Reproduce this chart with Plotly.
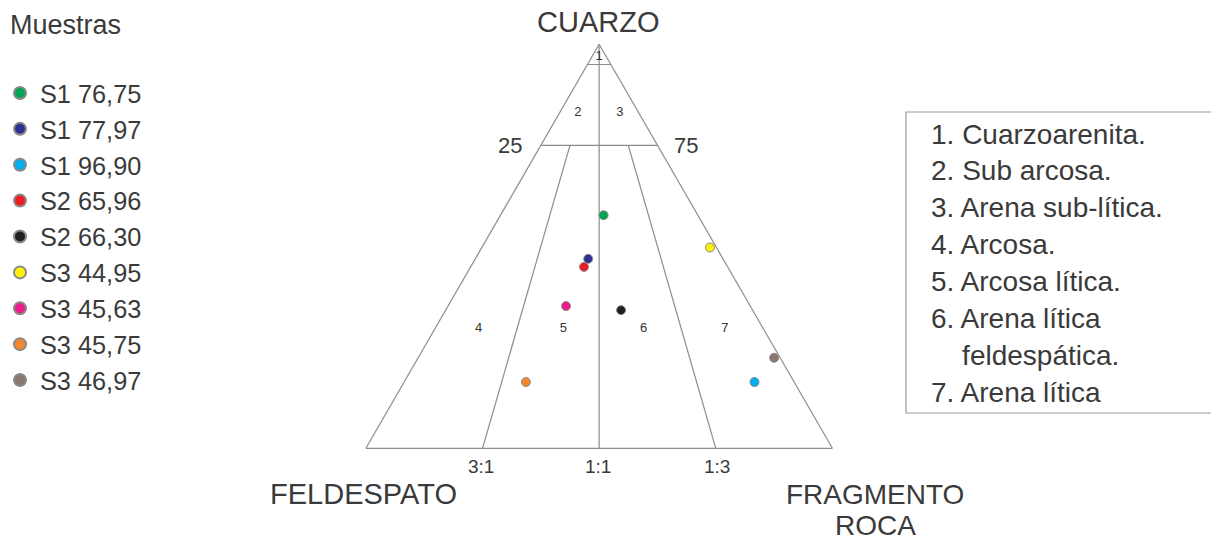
import plotly.graph_objects as go

# muestras: cuarzo (Q), feldespato (F), fragmento roca (R) en %
muestras = ["S1 76,75", "S1 77,97", "S1 96,90", "S2 65,96", "S2 66,30",
            "S3 44,95", "S3 45,63", "S3 45,75", "S3 46,97"]
cuarzo = [57.7, 46.9, 16.4, 44.9, 34.2, 49.7, 35.2, 16.4, 22.4]
feldespato = [20.2, 28.9, 8.5, 30.8, 28.2, 1.4, 39.5, 57.5, 1.3]
fragmento = [22.1, 24.2, 75.1, 24.3, 37.6, 48.9, 25.3, 26.1, 76.3]
colores = ["#00a651", "#2e3192", "#00aeef", "#ed1c24", "#231f20",
           "#fff200", "#ec1c8c", "#f7872b", "#8b7770"]

# limites de la clasificacion (Q, F, R) por segmento
limites = [
    ([95, 95], [5, 0], [0, 5]),
    ([75, 75], [25, 0], [0, 25]),
    ([100, 0], [0, 50], [0, 50]),
    ([75, 0], [18.75, 75], [6.25, 25]),
    ([75, 0], [6.25, 25], [18.75, 75]),
]

# numeros de campo
campos = ["1", "2", "3", "4", "5", "6", "7"]
campo_q = [96.8, 83.1, 83.1, 29.7, 29.7, 29.7, 29.7]
campo_f = [1.6, 13.0, 4.0, 61.0, 42.8, 25.6, 8.2]
campo_r = [1.6, 3.9, 12.9, 9.3, 27.5, 44.7, 62.1]

nombres = ["1. Cuarzoarenita.", "2. Sub arcosa.", "3. Arena sub-lítica.",
           "4. Arcosa.", "5. Arcosa lítica.", "6. Arena lítica",
           "\u00a0\u00a0\u00a0\u00a0feldespática.", "7. Arena lítica"]

W, H = 1211, 544
FUENTE = "Liberation Sans, Arial, sans-serif"
GRIS = "#3a3a3a"
LINEA = "#8c8c8c"


def px(x, y):
    return x / W, 1 - y / H


fig = go.Figure()

for q, f, r in limites:
    fig.add_trace(go.Scatterternary(
        a=q, b=f, c=r, mode="lines",
        line=dict(color=LINEA, width=1.2),
        showlegend=False, hoverinfo="skip"
    ))

fig.add_trace(go.Scatterternary(
    a=campo_q, b=campo_f, c=campo_r, mode="text",
    text=campos, textfont=dict(family=FUENTE, size=13, color="#333333"),
    showlegend=False, hoverinfo="skip"
))

for i in range(len(muestras)):
    fig.add_trace(go.Scatterternary(
        a=[cuarzo[i]], b=[feldespato[i]], c=[fragmento[i]],
        mode="markers", name=muestras[i],
        marker=dict(size=9, color=colores[i],
                    line=dict(color="#8a8a8a", width=1))
    ))

eje = dict(showticklabels=False, ticks="", showgrid=False,
           linecolor=LINEA, linewidth=1.2, title="")

anotaciones = []


def texto(t, x, y, size, xanchor="center"):
    xp, yp = px(x, y)
    anotaciones.append(dict(
        text=t, x=xp, y=yp, xref="paper", yref="paper",
        xanchor=xanchor, yanchor="middle", showarrow=False,
        borderpad=0,
        font=dict(family=FUENTE, size=size, color=GRIS)
    ))


texto("CUARZO", 598, 22, 29)
texto("FELDESPATO", 363, 494, 29)
texto("FRAGMENTO", 875, 494, 28)
texto("ROCA", 875, 525.5, 28)
texto("25", 510, 146, 22)
texto("75", 686, 146, 22)
texto("3:1", 481, 466, 19)
texto("1:1", 598, 466, 19)
texto("1:3", 717, 466, 19)
texto("Muestras", 9, 25, 27, "left")

for i, n in enumerate(nombres):
    texto(n, 930, 134 + i * 36.9, 28, "left")

x0, y1 = px(906, 112)
x1, y0 = px(1220, 413)

fig.update_layout(
    width=W, height=H,
    margin=dict(l=0, r=0, t=0, b=0),
    paper_bgcolor="white",
    ternary=dict(
        sum=100,
        bgcolor="white",
        domain=dict(x=[px(365, 0)[0], px(833.3, 0)[0]],
                    y=[px(0, 448.3)[1], px(0, 44.3)[1]]),
        aaxis=eje, baxis=eje, caxis=eje
    ),
    showlegend=True,
    legend=dict(
        x=0, y=1 - 70 / H, xanchor="left", yanchor="top",
        font=dict(family=FUENTE, size=25.3, color=GRIS),
        itemsizing="constant", tracegroupgap=0,
        bgcolor="rgba(0,0,0,0)"
    ),
    annotations=anotaciones,
    shapes=[dict(type="rect", xref="paper", yref="paper",
                 x0=x0, x1=x1, y0=y0, y1=y1,
                 line=dict(color="#9a9a9a", width=1.2))]
)

# sin margen de pagina, la figura ocupa toda la ventana
fig.write_html("out.html", config={"displayModeBar": False},
               post_script="document.body.style.margin = '0';")
